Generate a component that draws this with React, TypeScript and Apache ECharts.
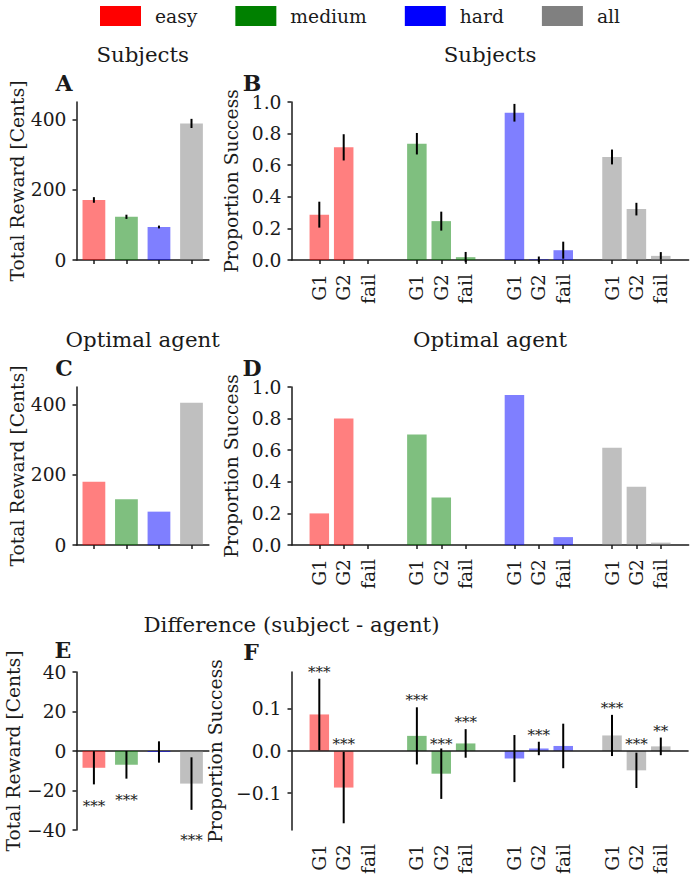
import { useEffect, useRef } from 'react';
import * as echarts from 'echarts';

// ---------- data ----------
const difficulties = ['easy', 'medium', 'hard', 'all'];
const colors = ['#ff0000', '#008000', '#0000ff', '#808080'];
const outcomeLabels = ['G1', 'G2', 'fail'];

const rewardSubjects = [171, 123, 94, 389];
const rewardSubjectsErr = [8, 6, 4, 13];
const rewardAgent = [180, 130, 95, 405];
const rewardDiff = [-8.5, -7, -0.5, -16.5];
const rewardDiffErr = [8.4, 7, 5.4, 13.3];
const rewardDiffStars = ['***', '***', '', '***'];
const rewardDiffStarY = [-26, -23, 0, -43];

const successSubjects = [
  [0.287, 0.713, 0],
  [0.736, 0.246, 0.018],
  [0.932, 0.004, 0.062],
  [0.652, 0.322, 0.026],
];
const successSubjectsErr = [
  [0.082, 0.083, 0],
  [0.068, 0.06, 0.033],
  [0.056, 0.018, 0.054],
  [0.047, 0.04, 0.024],
];
const successAgent = [
  [0.2, 0.8, 0],
  [0.7, 0.3, 0],
  [0.95, 0, 0.05],
  [0.615, 0.368, 0.015],
];
const successDiff = [
  [0.087, -0.087, 0],
  [0.036, -0.054, 0.018],
  [-0.018, 0.006, 0.012],
  [0.037, -0.046, 0.011],
];
const successDiffErr = [
  [0.085, 0.085, 0],
  [0.068, 0.06, 0.034],
  [0.056, 0.016, 0.053],
  [0.049, 0.042, 0.021],
];
const successDiffStars = [
  ['***', '***', ''],
  ['***', '***', '***'],
  ['', '***', ''],
  ['***', '***', '**'],
];
const successDiffStarY = [
  [0.198, 0.026, 0],
  [0.131, 0.026, 0.078],
  [0, 0.048, 0],
  [0.111, 0.026, 0.057],
];

const rewardTicks = [0, 200, 400];
const diffSuccessTicks = [-0.1, 0, 0.1];

// ---------- layout ----------
const FONT = "'DejaVu Serif', serif";
const INK = '#1a1a1a';
const rowTops = [102, 387, 672];
const plotH = 158;
const leftCol = { left: 76.5, width: 132.4 };
const rightCol = { left: 291.5, width: 397.1 };
const rewardRange = [-0.535, 3.535];
const outcomeRange = [-1.14, 15.14];
const rewardBarW = (leftCol.width / (rewardRange[1] - rewardRange[0])) * 0.7;
const outcomeBarW = (rightCol.width / (outcomeRange[1] - outcomeRange[0])) * 0.8;
const TICK_FS = 18.7;
const LABEL_FS = 18.7;

const outcomeX = (d: number, k: number) => 4 * d + k;
const outcomePositions: number[] = [];
difficulties.forEach((_, d) => outcomeLabels.forEach((__, k) => outcomePositions.push(outcomeX(d, k))));

const minus = (s: string) => s.replace('-', '\u2212');

function buildOption() {
  const grids: any[] = [];
  const xAxes: any[] = [];
  const yAxes: any[] = [];
  const series: any[] = [];
  const axisLineStyle = { color: INK, width: 1.5 };
  const labelStyle = { fontSize: TICK_FS, fontFamily: FONT, color: INK };
  const nameStyle = { fontSize: LABEL_FS, fontFamily: FONT, color: INK };
  const yLine = { show: true, onZero: false, lineStyle: axisLineStyle };

  for (let r = 0; r < 3; r++) {
    // left (reward) panel
    const gl = r * 2;
    grids.push({ left: leftCol.left, width: leftCol.width, top: rowTops[r], height: plotH, outerBoundsMode: 'none' });
    xAxes.push({
      type: 'value', gridIndex: gl, min: rewardRange[0], max: rewardRange[1],
      axisLine: { show: true, onZero: true, lineStyle: axisLineStyle },
      axisTick: { show: r < 2, customValues: [0, 1, 2, 3], length: 4, lineStyle: axisLineStyle },
      axisLabel: { show: false }, splitLine: { show: false },
    });
    yAxes.push(
      r < 2
        ? {
            type: 'value', gridIndex: gl, min: 0, max: 450,
            axisLine: yLine,
            axisTick: { show: true, customValues: rewardTicks, length: 4, lineStyle: axisLineStyle },
            axisLabel: { ...labelStyle, customValues: rewardTicks, margin: 10 },
            splitLine: { show: false },
            name: 'Total Reward [Cents]', nameLocation: 'middle', nameGap: 49, nameTextStyle: nameStyle,
          }
        : {
            type: 'value', gridIndex: gl, min: -40, max: 40, interval: 20,
            axisLine: yLine,
            axisTick: { show: true, length: 4, lineStyle: axisLineStyle },
            axisLabel: { ...labelStyle, margin: 10, formatter: (v: number) => minus(String(v)) },
            splitLine: { show: false },
            name: 'Total Reward [Cents]', nameLocation: 'middle', nameGap: 49, nameTextStyle: nameStyle,
          }
    );
    const rVals = r === 0 ? rewardSubjects : r === 1 ? rewardAgent : rewardDiff;
    difficulties.forEach((name, d) => {
      series.push({
        type: 'bar', name, xAxisIndex: gl, yAxisIndex: gl, silent: true,
        barWidth: rewardBarW, barGap: '-100%',
        itemStyle: { color: colors[d], opacity: 0.5 },
        data: [[d, rVals[d]]],
      });
    });
    if (r !== 1) {
      const errs = r === 0 ? rewardSubjectsErr : rewardDiffErr;
      series.push({
        type: 'custom', name: 'err', xAxisIndex: gl, yAxisIndex: gl, silent: true, z: 5,
        encode: { x: 0, y: [1, 2] },
        data: difficulties.map((_, d) => [d, rVals[d] - errs[d], rVals[d] + errs[d]]),
        renderItem: (p: any, api: any) => {
          const a = api.coord([api.value(0), api.value(1)]);
          const b = api.coord([api.value(0), api.value(2)]);
          return { type: 'line', shape: { x1: a[0], y1: a[1], x2: b[0], y2: b[1] }, style: { stroke: '#000', lineWidth: 2 } };
        },
      });
    }
    if (r === 2) {
      series.push({
        type: 'custom', name: 'stars', xAxisIndex: gl, yAxisIndex: gl, silent: true, z: 6, clip: false,
        encode: { x: 0, y: 1 },
        data: difficulties.map((_, d) => [d, rewardDiffStarY[d]]),
        renderItem: (p: any, api: any) => {
          const c = api.coord([api.value(0), api.value(1)]);
          return {
            type: 'text', x: c[0], y: c[1] + 4,
            style: { text: rewardDiffStars[p.dataIndex], fontSize: 15, fontFamily: FONT, fill: INK, align: 'center', verticalAlign: 'middle', textAlign: 'center', textVerticalAlign: 'middle' },
          };
        },
      });
    }

    // right (outcome) panel
    const gr = r * 2 + 1;
    grids.push({ left: rightCol.left, width: rightCol.width, top: rowTops[r], height: plotH, outerBoundsMode: 'none' });
    xAxes.push({
      type: 'value', gridIndex: gr, min: outcomeRange[0], max: outcomeRange[1],
      axisLine: { show: r < 2, onZero: false, lineStyle: axisLineStyle },
      axisTick: { show: r < 2, customValues: outcomePositions, length: 4, lineStyle: axisLineStyle },
      axisLabel: {
        ...labelStyle, customValues: outcomePositions, rotate: 90, margin: 14,
        formatter: (v: number) => outcomeLabels[Math.round(v) % 4] ?? '',
      },
      splitLine: { show: false },
    });
    yAxes.push(
      r < 2
        ? {
            type: 'value', gridIndex: gr, min: 0, max: 1, interval: 0.2,
            axisLine: yLine,
            axisTick: { show: true, length: 4, lineStyle: axisLineStyle },
            axisLabel: { ...labelStyle, margin: 10, formatter: (v: number) => v.toFixed(1) },
            splitLine: { show: false },
            name: 'Proportion Success', nameLocation: 'middle', nameGap: 49, nameTextStyle: nameStyle,
          }
        : {
            type: 'value', gridIndex: gr, min: -0.188, max: 0.188,
            axisLine: yLine,
            axisTick: { show: true, customValues: diffSuccessTicks, length: 4, lineStyle: axisLineStyle },
            axisLabel: { ...labelStyle, margin: 10, customValues: diffSuccessTicks, formatter: (v: number) => minus(v.toFixed(1)) },
            splitLine: { show: false },
            name: 'Proportion Success', nameLocation: 'middle', nameGap: 49, nameTextStyle: nameStyle,
          }
    );
    const sVals = r === 0 ? successSubjects : r === 1 ? successAgent : successDiff;
    difficulties.forEach((name, d) => {
      const s: any = {
        type: 'bar', name, xAxisIndex: gr, yAxisIndex: gr, silent: true,
        barWidth: outcomeBarW, barGap: '-100%',
        itemStyle: { color: colors[d], opacity: 0.5 },
        data: outcomeLabels.map((_, k) => [outcomeX(d, k), sVals[d][k]]),
      };
      if (r === 2 && d === 0) {
        s.markLine = {
          silent: true, symbol: 'none', label: { show: false },
          lineStyle: { color: INK, width: 1.5, type: 'solid', opacity: 1 },
          emphasis: { disabled: true },
          data: [{ yAxis: 0 }],
        };
      }
      series.push(s);
    });
    if (r !== 1) {
      const errs = r === 0 ? successSubjectsErr : successDiffErr;
      const data: number[][] = [];
      difficulties.forEach((_, d) =>
        outcomeLabels.forEach((__, k) => {
          if (errs[d][k] > 0) data.push([outcomeX(d, k), sVals[d][k] - errs[d][k], sVals[d][k] + errs[d][k]]);
        })
      );
      series.push({
        type: 'custom', name: 'err', xAxisIndex: gr, yAxisIndex: gr, silent: true, z: 5,
        encode: { x: 0, y: [1, 2] },
        data,
        renderItem: (p: any, api: any) => {
          const a = api.coord([api.value(0), api.value(1)]);
          const b = api.coord([api.value(0), api.value(2)]);
          return { type: 'line', shape: { x1: a[0], y1: a[1], x2: b[0], y2: b[1] }, style: { stroke: '#000', lineWidth: 2 } };
        },
      });
    }
    if (r === 2) {
      const data: number[][] = [];
      const texts: string[] = [];
      difficulties.forEach((_, d) =>
        outcomeLabels.forEach((__, k) => {
          if (successDiffStars[d][k]) {
            data.push([outcomeX(d, k), successDiffStarY[d][k]]);
            texts.push(successDiffStars[d][k]);
          }
        })
      );
      series.push({
        type: 'custom', name: 'stars', xAxisIndex: gr, yAxisIndex: gr, silent: true, z: 6, clip: false,
        encode: { x: 0, y: 1 },
        data,
        renderItem: (p: any, api: any) => {
          const c = api.coord([api.value(0), api.value(1)]);
          return {
            type: 'text', x: c[0], y: c[1] + 4,
            style: { text: texts[p.dataIndex], fontSize: 15, fontFamily: FONT, fill: INK, align: 'center', verticalAlign: 'middle', textAlign: 'center', textVerticalAlign: 'middle' },
          };
        },
      });
    }
  }

  const txt = (text: string, x: number, y: number, size: number, bold = false) => ({
    type: 'text', x, y, silent: true,
    style: {
      text, fontSize: size, fontFamily: FONT, fontWeight: bold ? 'bold' : 'normal', fill: INK,
      align: 'center', verticalAlign: 'middle', textAlign: 'center', textVerticalAlign: 'middle',
    },
  });
  const leftCenter = leftCol.left + leftCol.width / 2;
  const rightCenter = rightCol.left + rightCol.width / 2;
  const graphic = [
    txt('Subjects', leftCenter, 54, 21.3),
    txt('Subjects', rightCenter, 54, 21.3),
    txt('Optimal agent', leftCenter, 339, 21.3),
    txt('Optimal agent', rightCenter, 339, 21.3),
    txt('Difference (subject - agent)', rightCol.left, 624, 21.3),
    txt('A', 64, 83, 22, true),
    txt('B', 252, 83, 22, true),
    txt('C', 64, 368, 22, true),
    txt('D', 252, 368, 22, true),
    txt('E', 63, 650, 22, true),
    txt('F', 251, 652, 22, true),
  ];

  return {
    animation: false,
    backgroundColor: '#ffffff',
    textStyle: { fontFamily: FONT },
    legend: {
      left: 95, top: 1, itemWidth: 41, itemHeight: 20, itemGap: 38, icon: 'rect', selectedMode: false,
      textStyle: { fontSize: 18.7, fontFamily: FONT, color: INK, padding: [0, 0, 0, 9] },
      data: difficulties.map((name, i) => ({ name, itemStyle: { color: colors[i], opacity: 1, borderWidth: 0 } })),
    },
    grid: grids,
    xAxis: xAxes,
    yAxis: yAxes,
    series,
    graphic,
  };
}

export default function App() {
  const ref = useRef<HTMLDivElement>(null);
  useEffect(() => {
    document.body.style.margin = '0';
    const chart = echarts.init(ref.current!, null, { renderer: 'svg' });
    chart.setOption(buildOption() as any);
    return () => chart.dispose();
  }, []);
  return <div ref={ref} style={{ width: 690, height: 874 }} />;
}
